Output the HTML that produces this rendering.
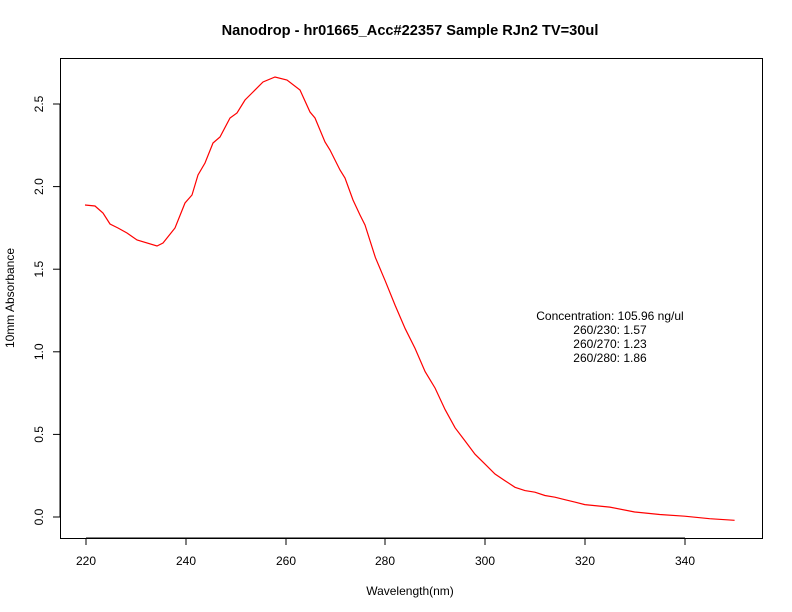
<!DOCTYPE html>
<html><head><meta charset="utf-8"><style>
html,body{margin:0;padding:0;background:#fff;}
svg{display:block;font-family:"Liberation Sans",sans-serif;}
</style></head><body>
<svg width="792" height="612" viewBox="0 0 792 612">
<rect x="0" y="0" width="792" height="612" fill="#fff"/>
<text x="410" y="35" text-anchor="middle" font-size="14.6" font-weight="bold">Nanodrop - hr01665_Acc#22357 Sample RJn2 TV=30ul</text>
<rect x="60.5" y="58.5" width="702" height="480" fill="none" stroke="#000" stroke-width="1"/>
<g stroke="#000" stroke-width="1">
<line x1="86" y1="538" x2="685" y2="538"/>
<line x1="86" y1="538" x2="86" y2="545"/>
<line x1="186" y1="538" x2="186" y2="545"/>
<line x1="286" y1="538" x2="286" y2="545"/>
<line x1="385" y1="538" x2="385" y2="545"/>
<line x1="485" y1="538" x2="485" y2="545"/>
<line x1="585" y1="538" x2="585" y2="545"/>
<line x1="685" y1="538" x2="685" y2="545"/>
<line x1="60" y1="104" x2="60" y2="517"/>
<line x1="60" y1="517" x2="53" y2="517"/>
<line x1="60" y1="434.4" x2="53" y2="434.4"/>
<line x1="60" y1="351.8" x2="53" y2="351.8"/>
<line x1="60" y1="269.2" x2="53" y2="269.2"/>
<line x1="60" y1="186.6" x2="53" y2="186.6"/>
<line x1="60" y1="104" x2="53" y2="104"/>
</g>
<g font-size="12" text-anchor="middle">
<text x="86" y="565">220</text><text x="186" y="565">240</text><text x="286" y="565">260</text>
<text x="385" y="565">280</text><text x="485" y="565">300</text><text x="585" y="565">320</text><text x="685" y="565">340</text>
<text x="410" y="595">Wavelength(nm)</text>
</g>
<g font-size="12" text-anchor="middle">
<text transform="translate(43,517) rotate(-90)">0.0</text>
<text transform="translate(43,434.4) rotate(-90)">0.5</text>
<text transform="translate(43,351.8) rotate(-90)">1.0</text>
<text transform="translate(43,269.2) rotate(-90)">1.5</text>
<text transform="translate(43,186.6) rotate(-90)">2.0</text>
<text transform="translate(43,104) rotate(-90)">2.5</text>
<text transform="translate(14,298) rotate(-90)">10mm Absorbance</text>
</g>
<g font-size="12" text-anchor="middle">
<text x="610" y="320">Concentration: 105.96 ng/ul</text>
<text x="610" y="334">260/230: 1.57</text>
<text x="610" y="348">260/270: 1.23</text>
<text x="610" y="362">260/280: 1.86</text>
</g>
<polyline fill="none" stroke="#ff0000" stroke-width="1.2" points="85,205 95,206 103,213 110,224 118,228 127,233 137,240 157,246 163,243 175,228 185,203 192,195 198,175 205,163 213,143 220,137 230,118 237,113 245,100 252,93 263,82 275,77 287,80 300,90 310,112 315,118 325,142 330,150 340,170 345,178 353,200 360,215 365,225 375.4,257.6 385.2,280.8 395.2,305.5 405.2,328.7 415.1,348.5 425.1,371.6 435.1,388.1 445.1,409.6 455.1,427.8 465.1,441 475,454.2 485,464.1 495,474 505,480.7 515,487.3 524.9,490.6 534.9,492.2 544.9,495.5 554.9,497.2 564.9,499.7 574.8,502.1 584.8,504.6 609.8,507.1 634.7,512 659.7,514.5 684.6,516.2 709.6,518.7 734.6,520.3"/>
</svg>
</body></html>
